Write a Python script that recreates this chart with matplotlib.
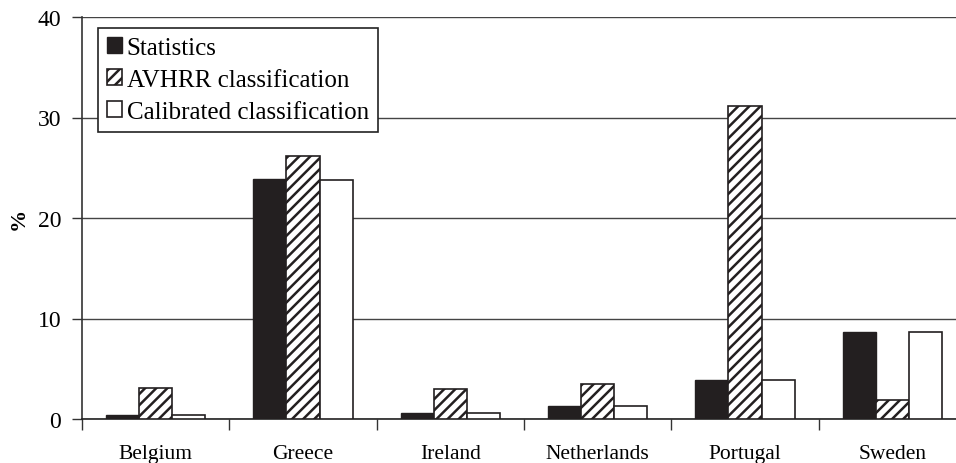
import matplotlib
matplotlib.use("Agg")
import matplotlib.pyplot as plt
import numpy as np

countries = ["Belgium", "Greece", "Ireland", "Netherlands", "Portugal", "Sweden"]
statistics = [0.4, 23.9, 0.55, 1.25, 3.9, 8.7]
avhrr = [3.1, 26.2, 2.95, 3.45, 31.1, 1.9]
calibrated = [0.35, 23.8, 0.55, 1.25, 3.9, 8.7]
series_labels = ["Statistics", "AVHRR classification", "Calibrated classification"]
y_ticks = [0, 10, 20, 30, 40]

plt.rcParams["font.family"] = ["Liberation Serif", "DejaVu Serif"]
plt.rcParams["hatch.linewidth"] = 1.8
plt.rcParams["hatch.color"] = "#1a1a1a"

fig = plt.figure(figsize=(9.56, 4.64), dpi=100)
ax = fig.add_axes([82 / 956, 44 / 464, 884 / 956, 402 / 464])

x = np.arange(len(countries))
w = 0.224
ax.bar(x - w, statistics, w, color="#231f20", edgecolor="#231f20", linewidth=1.0,
       label=series_labels[0], zorder=3)
ax.bar(x, avhrr, w, color="white", edgecolor="#231f20", hatch="///", linewidth=1.2,
       label=series_labels[1], zorder=3)
ax.bar(x + w, calibrated, w, color="white", edgecolor="#231f20", linewidth=1.2,
       label=series_labels[2], zorder=3)

ax.set_xlim(-0.5, len(countries) - 0.5)
ax.set_ylim(0, 40)
ax.set_yticks(y_ticks)
ax.set_yticklabels([str(t) for t in y_ticks], fontsize=17)
ax.yaxis.grid(True, color="#444444", linewidth=1.0, zorder=0)
ax.set_axisbelow(True)

# category labels centred, tick marks on group boundaries
ax.set_xticks(np.arange(-0.5, len(countries), 1.0))
ax.set_xticklabels([])
ax.set_xticks(x, minor=True)
ax.set_xticklabels(countries, minor=True, fontsize=15.5)
ax.tick_params(axis="x", which="minor", length=0, pad=18)
ax.tick_params(axis="x", which="major", direction="out", length=8, width=1.0, color="#333333")
ax.tick_params(axis="y", direction="out", length=7, width=1.0, color="#333333", pad=8)

for side in ("top", "right"):
    ax.spines[side].set_visible(False)
ax.spines["left"].set_color("#333333")
ax.spines["left"].set_linewidth(1.2)
ax.spines["bottom"].set_color("#222222")
ax.spines["bottom"].set_linewidth(1.2)

ax.set_ylabel("%", fontsize=16, fontweight="bold", labelpad=6)

leg = ax.legend(loc="upper left", bbox_to_anchor=(16 / 884, 1 - 11 / 402),
                fontsize=18, frameon=True, fancybox=False, framealpha=1,
                edgecolor="#222222", handlelength=0.6, handleheight=0.6,
                handletextpad=0.2, borderpad=0.35, labelspacing=0.4,
                borderaxespad=0)
leg.get_frame().set_linewidth(1.2)

fig.savefig("out.png", dpi=100)
